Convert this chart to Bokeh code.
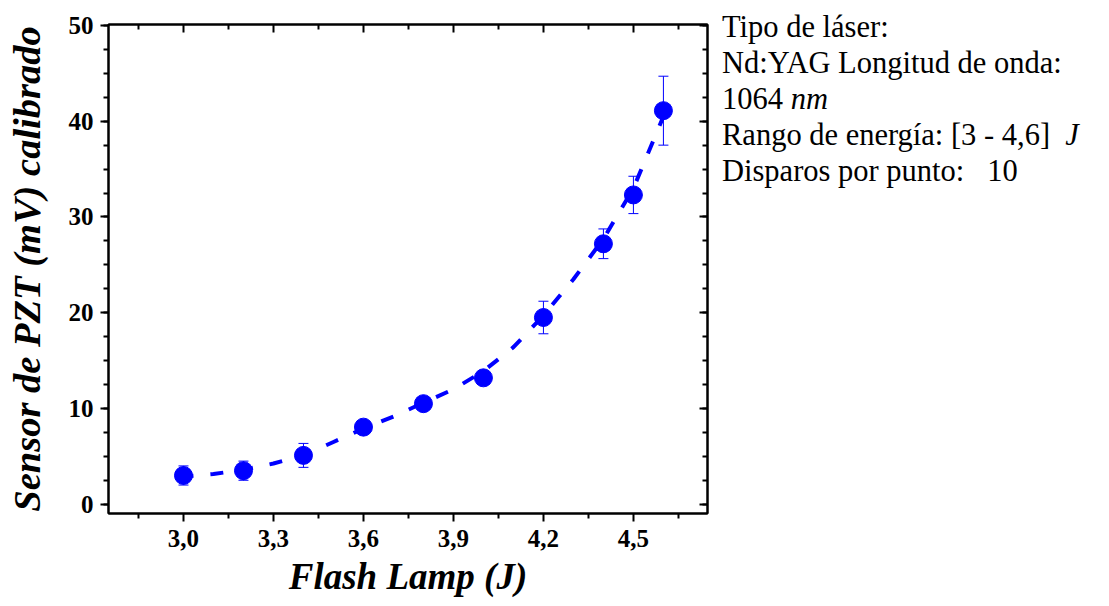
from bokeh.plotting import figure
from bokeh.layouts import row
from bokeh.models import (Range1d, LinearAxis, FixedTicker, SingleIntervalTicker,
                          Whisker, TeeHead, ColumnDataSource, Div, CustomJSTickFormatter)
from bokeh.embed import file_html
from bokeh.resources import INLINE

# ---- data ----
energy = [3.0, 3.2, 3.4, 3.6, 3.8, 4.0, 4.2, 4.4, 4.5, 4.6]
signal = [3.0, 3.5, 5.1, 8.05, 10.5, 13.2, 19.5, 27.2, 32.3, 41.1]
error = [1.0, 1.0, 1.25, 0.3, 0.3, 0.3, 1.7, 1.55, 1.95, 3.6]

fit_x = [3.0, 3.1, 3.2, 3.3, 3.4, 3.5, 3.6, 3.7, 3.8, 3.9, 4.0, 4.1, 4.2, 4.3, 4.4, 4.5, 4.6]
fit_y = [2.9, 3.15, 3.6, 4.25, 5.1, 6.5, 7.9, 9.15, 10.6, 12.0, 13.9, 16.4, 19.7, 23.5, 27.7, 33.0, 40.5]

x_ticks = [3.0, 3.3, 3.6, 3.9, 4.2, 4.5]
x_tick_labels = ["3,0", "3,3", "3,6", "3,9", "4,2", "4,5"]

info_lines = ["Tipo de láser:",
              "Nd:YAG Longitud de onda:",
              "1064 <i>nm</i>",
              "Rango de energía: [3 - 4,6]&nbsp; <i>J</i>",
              "Disparos por punto:&nbsp;&nbsp; 10"]

x_label = "Flash Lamp (J)"
y_label = "Sensor de PZT (mV) calibrado"

BLUE = "#0000FF"
SERIF = "Liberation Serif"

src = ColumnDataSource(dict(x=energy, y=signal,
                            lo=[s - e for s, e in zip(signal, error)],
                            hi=[s + e for s, e in zip(signal, error)]))

p = figure(frame_width=599, frame_height=489,
           x_range=Range1d(2.75, 4.747), y_range=Range1d(-0.97, 50.1),
           output_backend="svg", toolbar_location=None,
           min_border_left=108, min_border_right=15, min_border_top=24, min_border_bottom=93,
           margin=(0, 0, 0, 0))

p.xgrid.visible = False
p.ygrid.visible = False
p.outline_line_color = "black"
p.outline_line_width = 2
p.background_fill_color = "white"
p.border_fill_color = "white"

# fit curve
p.line(fit_x, fit_y, line_color=BLUE, line_width=4, line_dash="13 17", line_dash_offset=3)

# error bars
w = Whisker(source=src, base="x", lower="lo", upper="hi", line_color=BLUE, line_width=1,
            upper_head=TeeHead(size=10, line_color=BLUE, line_width=1),
            lower_head=TeeHead(size=10, line_color=BLUE, line_width=1))
p.add_layout(w)

p.scatter("x", "y", source=src, size=18, fill_color=BLUE, line_color=BLUE, marker="circle")

# axes
xt = FixedTicker(ticks=x_ticks, minor_ticks=[t + 0.15 for t in [x_ticks[0] - 0.3] + x_ticks])
yt = SingleIntervalTicker(interval=10, num_minor_ticks=4)

xa = p.xaxis[0]
ya = p.yaxis[0]
xa.ticker = xt
ya.ticker = yt
xa.major_label_overrides = {t: l for t, l in zip(x_ticks, x_tick_labels)}

for ax in (xa, ya):
    ax.axis_line_width = 2
    ax.major_tick_line_width = 2
    ax.minor_tick_line_width = 2
    ax.major_tick_out = 8
    ax.major_tick_in = 0
    ax.minor_tick_out = 5
    ax.minor_tick_in = 0
    ax.major_label_text_font = SERIF
    ax.major_label_text_font_style = "bold"
    ax.major_label_text_font_size = "25px"
    ax.major_label_text_color = "black"
    ax.axis_label_text_font = SERIF
    ax.axis_label_text_font_style = "bold italic"
    ax.axis_label_text_color = "black"

xa.axis_label = x_label
ya.axis_label = y_label
xa.axis_label_text_font_size = "37px"
ya.axis_label_text_font_size = "38.5px"
xa.major_label_standoff = 8
ya.major_label_standoff = 7
xa.axis_label_standoff = 6
ya.axis_label_standoff = 18

blank = CustomJSTickFormatter(code="return ''")
top = LinearAxis(ticker=xt, formatter=blank)
right = LinearAxis(ticker=yt, formatter=blank)
for ax in (top, right):
    ax.axis_line_width = 2
    ax.major_tick_line_width = 2
    ax.minor_tick_line_width = 2
    ax.major_tick_in = 8
    ax.major_tick_out = 0
    ax.minor_tick_in = 5
    ax.minor_tick_out = 0
    ax.major_label_standoff = 0
p.add_layout(top, "above")
p.add_layout(right, "right")

# info text
html = ("<div style=\"font-family: 'Liberation Serif', 'Times New Roman', serif; font-size: 30.5px; "
        "line-height: 36px; color: black; padding-top: 9px; white-space: nowrap;\">"
        + "<br>".join(info_lines) + "</div>")
info = Div(text=html, width=385, margin=(0, 0, 0, 0))

layout = row(p, info, margin=(0, 0, 0, 0))
open("out.html", "w").write(file_html(layout, INLINE))
